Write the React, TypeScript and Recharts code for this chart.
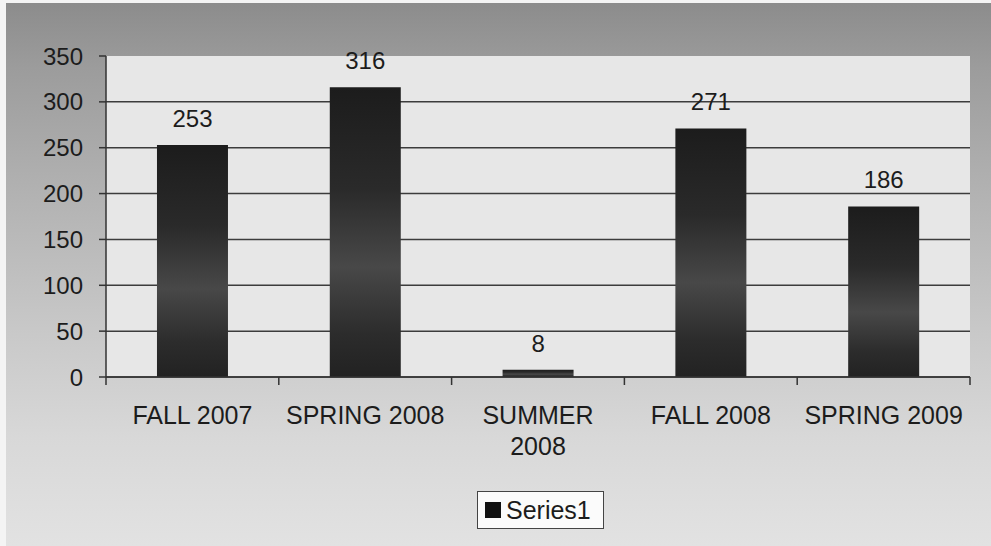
import React from "react";
import { BarChart, Bar, XAxis, YAxis, CartesianGrid, LabelList } from "recharts";

const categories = ["FALL 2007", "SPRING 2008", "SUMMER 2008", "FALL 2008", "SPRING 2009"];
const series1 = [253, 316, 8, 271, 186];
const yTicks = [0, 50, 100, 150, 200, 250, 300, 350];
const xTickLines = [["FALL 2007"], ["SPRING 2008"], ["SUMMER", "2008"], ["FALL 2008"], ["SPRING 2009"]];

const data = categories.map((c, i) => ({ name: c, Series1: series1[i] }));

const FONT = "'Liberation Sans', Arial, sans-serif";
const INK = "#1c1c1c";

const XTick = (props: any) => {
  const { x, y, payload, index } = props;
  const half = payload && typeof payload.offset === "number" && payload.offset > 0 ? payload.offset : 86.4;
  const lines = xTickLines[index] || [String(payload.value)];
  const isLast = index === categories.length - 1;
  return (
    <g>
      <line x1={x - half} x2={x - half} y1={y} y2={y + 8} stroke="#333" strokeWidth={1.5} />
      {isLast && <line x1={x + half} x2={x + half} y1={y} y2={y + 8} stroke="#333" strokeWidth={1.5} />}
      <text x={x} y={y} textAnchor="middle" fill={INK} fontSize={25} fontFamily={FONT}>
        {lines.map((l: string, i: number) => (
          <tspan key={i} x={x} dy={i === 0 ? 47 : 31}>
            {l}
          </tspan>
        ))}
      </text>
    </g>
  );
};

const GridLine = (props: any) => {
  const { x1, x2, y1, y2, y } = props;
  if (typeof y === "number" && Math.abs(y1 - y) < 1) return <g />;
  return <line x1={x1} x2={x2} y1={y1} y2={y2} stroke="#3c3c3c" strokeWidth={1.5} fill="none" />;
};

export default function App() {
  return (
    <div style={{ position: "absolute", left: 0, top: 0, width: 991, height: 546, background: "#f4f4f4", overflow: "hidden" }}>
      <div
        style={{
          position: "absolute",
          left: 6,
          top: 3,
          width: 985,
          height: 543,
          background: "linear-gradient(180deg, #8c8c8c 0%, #9c9c9c 12%, #b2b2b2 35%, #c8c8c8 60%, #d8d8d8 80%, #e2e2e2 100%)",
        }}
      />
      <div style={{ position: "absolute", left: 0, top: 0 }}>
        <BarChart width={991} height={546} data={data} margin={{ top: 56, right: 21, left: 0, bottom: 109 }} barCategoryGap="29.5%">
          <defs>
            <linearGradient id="barFill" x1="0" y1="0" x2="0" y2="1">
              <stop offset="0%" stopColor="#1c1c1c" />
              <stop offset="35%" stopColor="#2a2a2a" />
              <stop offset="62%" stopColor="#484848" />
              <stop offset="85%" stopColor="#2c2c2c" />
              <stop offset="100%" stopColor="#222222" />
            </linearGradient>
          </defs>
          <CartesianGrid
            vertical={false}
            horizontal={(p: any) => <GridLine {...p} />}
            fill="#e7e7e7"
            stroke="#3c3c3c"
            strokeWidth={1.5}
          />
          <XAxis
            dataKey="name"
            height={60}
            tickLine={false}
            tickSize={0}
            tickMargin={0}
            axisLine={{ stroke: "#333", strokeWidth: 1.5 }}
            tick={<XTick />}
            interval={0}
          />
          <YAxis
            width={106}
            domain={[0, 350]}
            ticks={yTicks}
            interval={0}
            tickSize={7}
            tickMargin={16}
            tickLine={{ stroke: "#333", strokeWidth: 1.5 }}
            axisLine={{ stroke: "#333", strokeWidth: 1.5 }}
            tick={{ fill: INK, fontSize: 24, fontFamily: FONT }}
          />
          <Bar dataKey="Series1" fill="url(#barFill)" isAnimationActive={false}>
            <LabelList dataKey="Series1" position="top" offset={18} fill={INK} fontSize={24} fontFamily={FONT} />
          </Bar>
        </BarChart>
      </div>
      <div
        style={{
          position: "absolute",
          left: 477,
          top: 491,
          width: 127,
          height: 38,
          boxSizing: "border-box",
          background: "#fbfbfb",
          border: "1px solid #444",
          display: "flex",
          alignItems: "center",
          fontFamily: FONT,
          fontSize: 25,
          color: INK,
        }}
      >
        <span style={{ display: "inline-block", width: 16, height: 16, background: "#111", marginLeft: 7, marginRight: 5 }} />
        <span>Series1</span>
      </div>
    </div>
  );
}
